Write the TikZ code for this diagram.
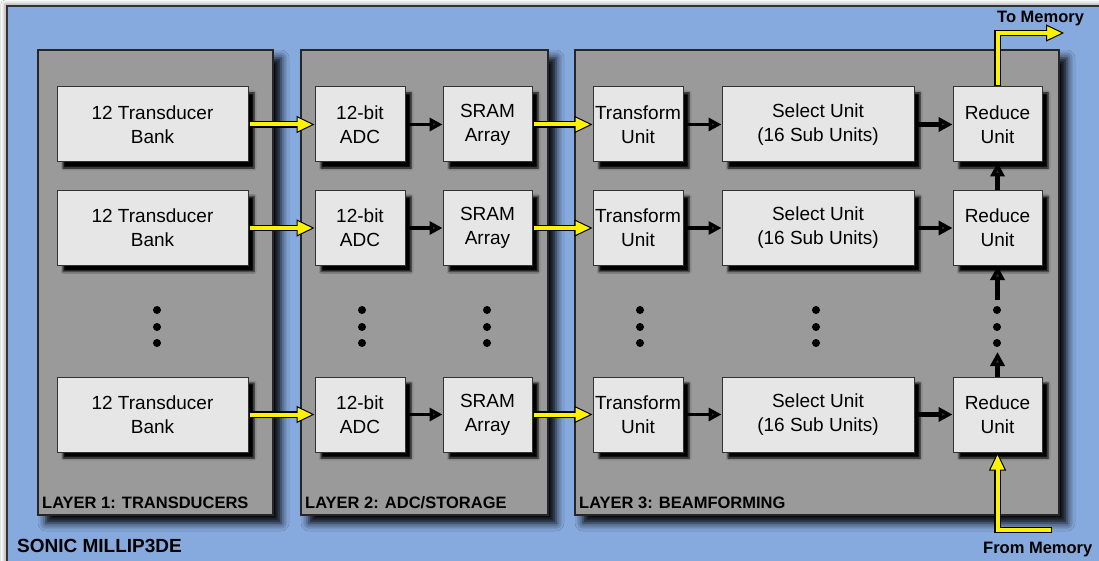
\documentclass[tikz,border=0pt]{standalone}
\usepackage{fontspec}
\setmainfont{Liberation Sans}
\usepackage{tikz}
\usetikzlibrary{arrows.meta}
\usetikzlibrary{shadows.blur}
\definecolor{sonicblue}{RGB}{135,170,222}
\definecolor{layergray}{RGB}{154,154,154}
\definecolor{unitgray}{RGB}{230,230,230}
\tikzset{layer/.style = {draw=black!85, line width=1.2pt, fill=layergray,
                         minimum height=465pt, inner sep=0,
                         blur shadow={shadow xshift=8pt, shadow yshift=-8pt,
                                      shadow blur radius=8pt, shadow opacity=100}}}
\tikzset{unit/.style = {draw=black!80, line width=1pt, fill=unitgray, align=center,
                        font=\fontsize{19}{24}\selectfont, inner sep=0,
                        minimum height=75pt,
                        blur shadow={shadow xshift=6pt, shadow yshift=-6pt,
                                     shadow blur radius=2pt, shadow opacity=100}}}
\tikzset{label/.style = {anchor=base west, inner sep=0,
                         font=\bfseries\fontsize{16.5}{16}\selectfont}}
\tikzset{flow/.style = {line width=3.5pt, -{Triangle[length=13pt, width=13pt]}}}
\tikzset{bigflow/.style = {line width=4.5pt, -{Triangle[length=14pt, width=14pt]}}}
\tikzset{memflow/.style = {line width=6.5pt, line join=miter,
                           -{Triangle[length=18pt, width=17pt, fill=yellow, line width=1pt]},
                           postaction={draw=yellow, line width=4pt, -,
                                       shorten >=16pt, shorten <=1pt}}}

\begin{document}
\begin{tikzpicture}[x=1pt, y=-1pt]
  \useasboundingbox (0,0) rectangle (1099,561);
  \fill [white] (0,0) rectangle (1099,561);
  \draw [fill=sonicblue, draw=black!80, line width=1.5pt,
         blur shadow={shadow xshift=-2pt, shadow yshift=2pt,
                      shadow blur radius=4pt, shadow opacity=40}]
        (7,6) rectangle (1106,570);

  % the three layers
  \node [layer, minimum width=235pt] (layer1) at (155.5,282.5) {};
  \node [layer, minimum width=247pt] (layer2) at (424.5,282.5) {};
  \node [layer, minimum width=484pt] (layer3) at (817,282.5) {};

  \node [label] at (42,508) {LAYER 1: TRANSDUCERS};
  \node [label] at (305,508) {LAYER 2: ADC/STORAGE};
  \node [label] at (579,508) {LAYER 3: BEAMFORMING};
  \node [label, font=\bfseries\fontsize{19}{19}\selectfont] at (17,552) {SONIC MILLIP3DE};

  % first row
  \node [unit, minimum width=191pt] (bank1) at (152.5,124.5) {12 Transducer\\Bank};
  \node [unit, minimum width=90pt] (adc1) at (360,124.5) {12-bit\\ADC};
  \node [unit, minimum width=89pt] (sram1) at (487.5,124.5) {SRAM\\Array};
  \node [unit, minimum width=90pt] (xform1) at (638,124.5) {Transform\\Unit};
  \node [unit, minimum width=192pt] (select1) at (818,124.5) {Select Unit\\(16 Sub Units)};
  \node [unit, minimum width=89pt] (reduce1) at (997.5,124.5) {Reduce\\Unit};

  % second row
  \node [unit, minimum width=191pt] (bank2) at (152.5,228) {12 Transducer\\Bank};
  \node [unit, minimum width=90pt] (adc2) at (360,228) {12-bit\\ADC};
  \node [unit, minimum width=89pt] (sram2) at (487.5,228) {SRAM\\Array};
  \node [unit, minimum width=90pt] (xform2) at (638,228) {Transform\\Unit};
  \node [unit, minimum width=192pt] (select2) at (818,228) {Select Unit\\(16 Sub Units)};
  \node [unit, minimum width=89pt] (reduce2) at (997.5,228) {Reduce\\Unit};

  % last row
  \node [unit, minimum width=191pt] (bank3) at (152.5,414.5) {12 Transducer\\Bank};
  \node [unit, minimum width=90pt] (adc3) at (360,414.5) {12-bit\\ADC};
  \node [unit, minimum width=89pt] (sram3) at (487.5,414.5) {SRAM\\Array};
  \node [unit, minimum width=90pt] (xform3) at (638,414.5) {Transform\\Unit};
  \node [unit, minimum width=192pt] (select3) at (818,414.5) {Select Unit\\(16 Sub Units)};
  \node [unit, minimum width=89pt] (reduce3) at (997.5,414.5) {Reduce\\Unit};

  % rows left out
  \foreach \x in {157, 362, 487, 640, 816, 997}
    \foreach \y in {310, 327, 343}
      \fill (\x,\y) circle [radius=4];

  % data between the layers
  \draw [memflow] (bank1) -- (adc1);
  \draw [memflow] (bank2) -- (adc2);
  \draw [memflow] (bank3) -- (adc3);
  \draw [memflow] (sram1) -- (xform1);
  \draw [memflow] (sram2) -- (xform2);
  \draw [memflow] (sram3) -- (xform3);

  \draw [flow] (adc1) -- (sram1);
  \draw [flow] (adc2) -- (sram2);
  \draw [flow] (adc3) -- (sram3);
  \draw [flow] (xform1) -- (select1);
  \draw [flow] (xform2) -- (select2);
  \draw [flow] (xform3) -- (select3);

  \draw [bigflow] (select1) -- (reduce1);
  \draw [bigflow] (select2) -- (reduce2);
  \draw [bigflow] (select3) -- (reduce3);

  % reduction chain
  \coordinate (chainlow) at (997.5,352);
  \coordinate (chainhigh) at (997.5,300);
  \draw [bigflow] (reduce3) -- (chainlow);
  \draw [bigflow] (chainhigh) -- (reduce2);
  \draw [bigflow] (reduce2) -- (reduce1);

  % memory in and out
  \coordinate (memout) at (1064,33);
  \coordinate (memin) at (1052,530);
  \draw [memflow] (reduce1.north) |- (memout);
  \draw [memflow] (memin) -| (reduce3.south);
  \node [label] at (997,23) {To Memory};
  \node [label] at (983,553) {From Memory};
\end{tikzpicture}
\end{document}
